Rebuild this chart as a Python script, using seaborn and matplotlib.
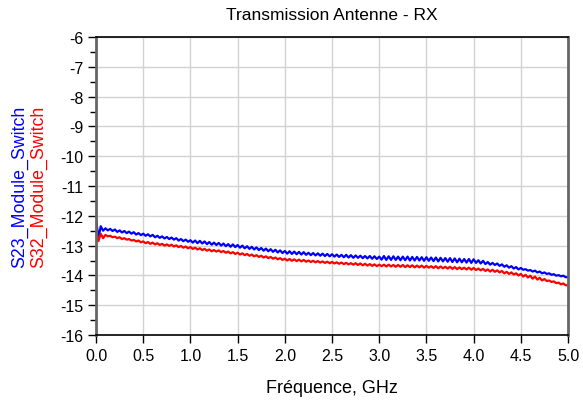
import numpy as np
import pandas as pd
import matplotlib
matplotlib.use("Agg")
import matplotlib.pyplot as plt
from matplotlib.ticker import MultipleLocator, FormatStrFormatter
import seaborn as sns

# frequency grid, GHz (0.0 .. 5.0 by 0.025)
freq = np.round(np.arange(201) * 0.025, 3)

# values, dB
s23 = [
    -12.10, -12.75, -12.35, -12.50, -12.42, -12.49, -12.44, -12.51, -12.46, -12.54,
    -12.49, -12.56, -12.51, -12.58, -12.53, -12.60, -12.55, -12.63, -12.58, -12.65,
    -12.60, -12.67, -12.62, -12.69, -12.64, -12.72, -12.67, -12.74, -12.69, -12.76,
    -12.71, -12.78, -12.73, -12.80, -12.75, -12.83, -12.78, -12.85, -12.80, -12.87,
    -12.82, -12.90, -12.83, -12.92, -12.84, -12.93, -12.86, -12.95, -12.88, -12.97,
    -12.90, -12.98, -12.91, -13.00, -12.93, -13.02, -12.95, -13.04, -12.96, -13.05,
    -12.98, -13.07, -13.00, -13.09, -13.02, -13.11, -13.04, -13.13, -13.06, -13.15,
    -13.08, -13.17, -13.10, -13.19, -13.12, -13.21, -13.14, -13.23, -13.16, -13.25,
    -13.18, -13.27, -13.19, -13.28, -13.20, -13.29, -13.21, -13.30, -13.22, -13.31,
    -13.24, -13.32, -13.25, -13.33, -13.26, -13.34, -13.27, -13.35, -13.28, -13.36,
    -13.29, -13.37, -13.30, -13.38, -13.31, -13.39, -13.31, -13.40, -13.32, -13.41,
    -13.33, -13.41, -13.34, -13.42, -13.35, -13.43, -13.35, -13.44, -13.36, -13.45,
    -13.37, -13.47, -13.35, -13.48, -13.36, -13.48, -13.36, -13.48, -13.37, -13.49,
    -13.37, -13.49, -13.37, -13.50, -13.38, -13.50, -13.38, -13.50, -13.39, -13.51,
    -13.39, -13.51, -13.40, -13.52, -13.40, -13.53, -13.41, -13.53, -13.42, -13.54,
    -13.42, -13.55, -13.43, -13.56, -13.44, -13.56, -13.45, -13.57, -13.45, -13.58,
    -13.46, -13.58, -13.49, -13.60, -13.51, -13.62, -13.55, -13.64, -13.58, -13.65,
    -13.60, -13.68, -13.63, -13.71, -13.66, -13.74, -13.69, -13.77, -13.72, -13.80,
    -13.75, -13.81, -13.79, -13.84, -13.82, -13.87, -13.84, -13.90, -13.87, -13.93,
    -13.90, -13.95, -13.93, -13.98, -13.96, -14.01, -13.99, -14.03, -14.01, -14.06,
    -14.06,
]

s32 = [
    -12.50, -12.85, -12.60, -12.75, -12.64, -12.69, -12.67, -12.72, -12.70, -12.75,
    -12.72, -12.78, -12.75, -12.80, -12.78, -12.83, -12.81, -12.86, -12.83, -12.89,
    -12.86, -12.92, -12.88, -12.94, -12.90, -12.96, -12.92, -12.98, -12.94, -13.00,
    -12.96, -13.01, -12.97, -13.03, -12.99, -13.05, -13.01, -13.07, -13.03, -13.09,
    -13.05, -13.11, -13.07, -13.13, -13.09, -13.15, -13.11, -13.17, -13.13, -13.19,
    -13.15, -13.20, -13.16, -13.22, -13.18, -13.24, -13.20, -13.26, -13.22, -13.28,
    -13.24, -13.30, -13.26, -13.32, -13.28, -13.34, -13.30, -13.36, -13.32, -13.38,
    -13.34, -13.40, -13.36, -13.42, -13.38, -13.44, -13.40, -13.46, -13.42, -13.48,
    -13.44, -13.50, -13.45, -13.51, -13.46, -13.52, -13.47, -13.53, -13.48, -13.54,
    -13.50, -13.55, -13.51, -13.56, -13.52, -13.57, -13.53, -13.58, -13.54, -13.59,
    -13.55, -13.60, -13.56, -13.61, -13.57, -13.62, -13.58, -13.63, -13.59, -13.64,
    -13.59, -13.65, -13.60, -13.66, -13.61, -13.67, -13.62, -13.68, -13.63, -13.69,
    -13.64, -13.69, -13.64, -13.70, -13.64, -13.70, -13.65, -13.71, -13.65, -13.71,
    -13.65, -13.72, -13.66, -13.72, -13.66, -13.73, -13.67, -13.73, -13.67, -13.74,
    -13.68, -13.74, -13.69, -13.75, -13.69, -13.76, -13.70, -13.76, -13.71, -13.77,
    -13.71, -13.78, -13.72, -13.79, -13.73, -13.79, -13.74, -13.80, -13.74, -13.81,
    -13.75, -13.82, -13.77, -13.83, -13.78, -13.85, -13.80, -13.87, -13.81, -13.88,
    -13.83, -13.90, -13.85, -13.93, -13.88, -13.95, -13.90, -13.97, -13.93, -14.00,
    -13.95, -14.04, -13.98, -14.07, -14.01, -14.11, -14.04, -14.14, -14.08, -14.17,
    -14.12, -14.19, -14.17, -14.22, -14.20, -14.26, -14.24, -14.30, -14.27, -14.33,
    -14.33,
]

series_names = ["S23_Module_Switch", "S32_Module_Switch"]
series_colors = ["#0000ff", "#ff0000"]

df = pd.DataFrame({
    "freq": np.concatenate([freq, freq]),
    "val": s23 + s32,
    "name": [series_names[0]] * len(s23) + [series_names[1]] * len(s32),
})

sns.set_style("ticks")
plt.rcParams["font.family"] = ["Liberation Sans", "DejaVu Sans"]
plt.rcParams["axes.unicode_minus"] = False

fig = plt.figure(figsize=(5.83, 4.06), dpi=100)
ax = fig.add_axes([0.1647, 0.1724, 0.8096, 0.734])

sns.lineplot(data=df, x="freq", y="val", hue="name", hue_order=series_names,
             palette=series_colors, linewidth=1.6, legend=False, ax=ax,
             estimator=None, sort=False)

ax.set_xlim(0, 5)
ax.set_ylim(-16, -6)
ax.xaxis.set_major_locator(MultipleLocator(0.5))
ax.xaxis.set_major_formatter(FormatStrFormatter("%.1f"))
ax.yaxis.set_major_locator(MultipleLocator(1))
ax.yaxis.set_minor_locator(MultipleLocator(0.5))
ax.grid(True, which="major", color="#d2d2d2", linewidth=1.0)
ax.set_axisbelow(True)

ax.tick_params(axis="both", which="major", direction="out", length=6, width=1,
               color="black", labelcolor="black", labelsize=11.5, pad=3)
ax.tick_params(axis="y", which="minor", direction="out", length=4, width=1, color="black")

for side in ["left", "right"]:
    ax.spines[side].set_color("#666666")
    ax.spines[side].set_linewidth(2)
for side in ["top", "bottom"]:
    ax.spines[side].set_color("black")
    ax.spines[side].set_linewidth(1.2)

ax.set_xlabel("Fréquence, GHz", fontsize=13, color="black", labelpad=12)
ax.set_ylabel("")
ax.set_title("Transmission Antenne - RX", fontsize=12.5, color="black", pad=13)

fig.text(0.034, 0.54, series_names[0], color=series_colors[0], rotation=90,
         ha="center", va="center", fontsize=12.8)
fig.text(0.066, 0.54, series_names[1], color=series_colors[1], rotation=90,
         ha="center", va="center", fontsize=12.8)

fig.savefig("out.png", dpi=100)
